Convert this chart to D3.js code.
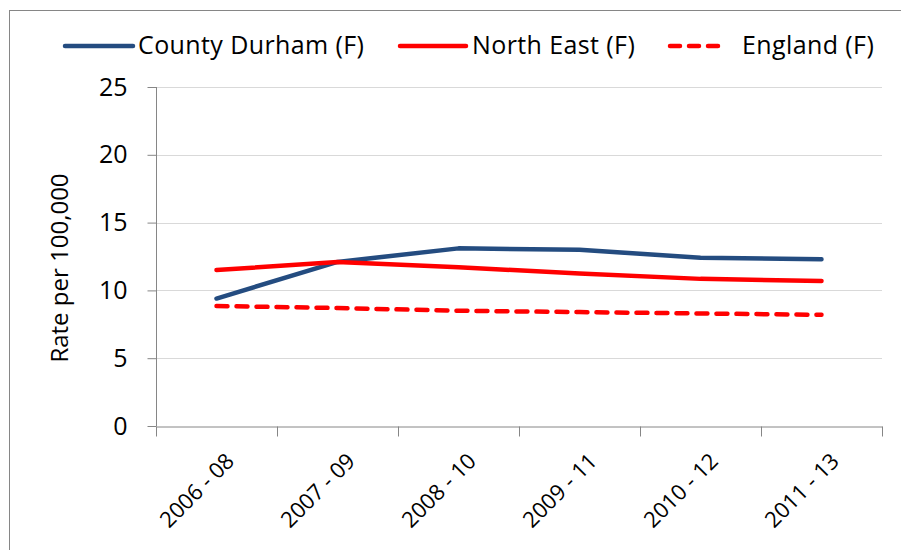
<!DOCTYPE html>
<html><head><meta charset="utf-8">
<script src="https://cdnjs.cloudflare.com/ajax/libs/d3/7.8.5/d3.min.js"></script>
<style>body{margin:0;background:#fff}svg{display:block}text{font-family:"Open Sans","DejaVu Sans",sans-serif;fill:#000}</style>
</head><body><svg id="c" width="901" height="550"></svg>
<script>
const categories = ["2006 - 08","2007 - 09","2008 - 10","2009 - 11","2010 - 12","2011 - 13"];
const durham = [9.4, 12.1, 13.1, 13.0, 12.4, 12.3];
const northEast = [11.5, 12.1, 11.7, 11.25, 10.85, 10.7];
const england = [8.85, 8.7, 8.5, 8.4, 8.3, 8.2];
const yTicks = [0,5,10,15,20,25];
const seriesNames = ["County Durham (F)","North East (F)","England (F)"];

const svg = d3.select("#c");
svg.append("rect").attr("x",9.5).attr("y",10.5).attr("width",900).attr("height",560)
  .attr("fill","#fff").attr("stroke","#868686").attr("stroke-width",1);

const x = d3.scaleBand().domain(categories).range([156,882]);
const y = d3.scaleLinear().domain([0,25]).range([426,87]);

// gridlines
svg.append("g").selectAll("line").data(yTicks.filter(d=>d>0)).join("line")
  .attr("x1",156).attr("x2",882).attr("y1",d=>Math.round(y(d))+0.5).attr("y2",d=>Math.round(y(d))+0.5)
  .attr("stroke","#D9D9D9").attr("stroke-width",1);

// y axis
const ya = svg.append("g").attr("transform","translate(156.5,0)")
  .call(d3.axisLeft(y).tickValues(yTicks).tickSize(9).tickPadding(20).tickFormat(d3.format("d")));
ya.select(".domain").attr("stroke","#868686").attr("d","M0,"+y(25)+"V"+y(0));
ya.selectAll(".tick line").attr("stroke","#868686");
ya.selectAll(".tick text").attr("font-size",25).attr("font-family","'Open Sans',sans-serif");

// x axis
const xa = svg.append("g").attr("transform","translate(0,426.5)")
  .call(d3.axisBottom(x).tickSize(0).tickSizeOuter(0));
xa.select(".domain").attr("stroke","#868686");
xa.selectAll(".tick line").remove();
const edges = categories.map(c=>x(c)).concat([x.range()[1]]);
xa.append("g").selectAll("line").data(edges).join("line")
  .attr("x1",d=>Math.round(d)+0.5).attr("x2",d=>Math.round(d)+0.5).attr("y1",0).attr("y2",10)
  .attr("stroke","#868686");
xa.selectAll(".tick text").attr("font-size",22).attr("font-family","'Open Sans',sans-serif")
  .attr("text-anchor","end").attr("dy",0).attr("y",0)
  .attr("transform","translate(19,36) rotate(-45)");

// y title
svg.append("text").attr("transform","translate(68,268) rotate(-90)")
  .attr("text-anchor","middle").attr("font-size",24).text("Rate per 100,000");

const line = d3.line().x((d,i)=>x(categories[i])+x.bandwidth()/2).y(d=>y(d));
const series = [
  {name:seriesNames[0], values:durham, color:"#244C80", dash:null},
  {name:seriesNames[1], values:northEast, color:"#FF0000", dash:null},
  {name:seriesNames[2], values:england, color:"#FF0000", dash:"11,9"}
];
series.forEach(s=>{
  svg.append("path").datum(s.values).attr("d",line).attr("fill","none")
    .attr("stroke",s.color).attr("stroke-width",4.5).attr("stroke-linecap","round")
    .attr("stroke-linejoin","round").attr("stroke-dasharray",s.dash);
});

// legend
const legX = [[65,133,138],[400,466,472],[670,725,742]];
series.forEach((s,i)=>{
  const [a,b,t] = legX[i];
  svg.append("line").attr("x1",a).attr("x2",b).attr("y1",46).attr("y2",46)
    .attr("stroke",s.color).attr("stroke-width",4.5).attr("stroke-linecap","round")
    .attr("stroke-dasharray",s.dash?"10,9":null);
  svg.append("text").attr("x",t).attr("y",54).attr("font-size",25).attr("letter-spacing",0.4).text(s.name);
});
</script></body></html>
